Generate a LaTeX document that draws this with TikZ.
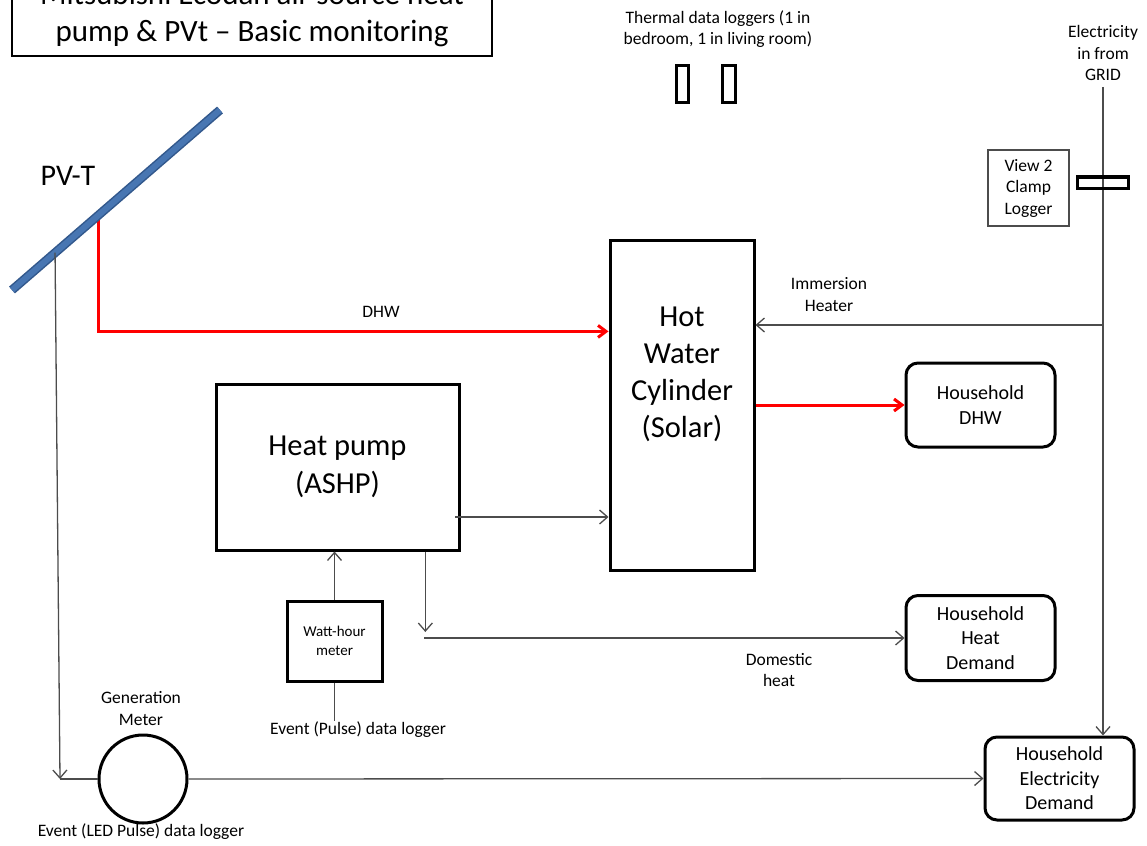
\documentclass[tikz,border=0pt]{standalone}
\usepackage{fontspec}
\setmainfont{Carlito}
\usetikzlibrary{arrows.meta,calc}

\definecolor{pvedge}{RGB}{50,88,140}
\definecolor{pvblue}{RGB}{72,118,178}

\tikzset{
	box/.style={draw, line width=3pt, align=center},
	roundbox/.style={draw, line width=3pt, rounded corners=12pt, align=center, font=\fontsize{20}{24.5}\selectfont},
	flow/.style={draw=black!70, line width=1.3pt, -{Straight Barb[length=8pt,width=14pt]}},
	wire/.style={draw=black!70, line width=1.3pt},
	hotflow/.style={draw=red, line width=3pt, -{Straight Barb[length=8pt,width=12pt]}},
	note/.style={align=center, font=\fontsize{17.5}{21.5}\selectfont, inner sep=1pt},
	logger/.style={draw, line width=3pt, inner sep=0pt},
}

\begin{document}
\begin{tikzpicture}[x=1pt,y=-1pt]
	\useasboundingbox (0,0) rectangle (1147,845);

	%Title
	\node[draw, line width=2pt, minimum width=480pt, minimum height=83pt, align=center, font=\fontsize{31}{37}\selectfont] at (252,14.5) (title) {Mitsubishi Ecodan air source heat\\pump \& PVt – Basic monitoring};

	%Thermal loggers
	\node[note] at (718,29) (thermlbl) {Thermal data loggers (1 in\\bedroom, 1 in living room)};
	\node[logger, minimum width=12pt, minimum height=37pt] at (682,84.5) (tl1) {};
	\node[logger, minimum width=13pt, minimum height=37pt] at (728.5,84.5) (tl2) {};

	%Hot water cylinder
	\node[box, minimum width=144pt, minimum height=330pt] at (682,405) (hwc) {};
	\node[align=center, font=\fontsize{30.5}{37}\selectfont] at (682,374.5) (hwctext) {Hot\\Water\\Cylinder\\(Solar)};

	%Heat pump
	\node[box, minimum width=243pt, minimum height=166pt, font=\fontsize{30.5}{38}\selectfont] at (337.5,467) (hp) {Heat pump\\(ASHP)};

	%Watt-hour meter
	\node[box, minimum width=95pt, minimum height=80pt, font=\fontsize{15}{19}\selectfont] at (334.5,641) (wh) {Watt-hour\\meter};
	\node[note] at (358,730) (pulse) {Event (Pulse) data logger};

	%Household demands
	\node[roundbox, minimum width=149pt, minimum height=84pt] at (980.5,405) (hdhw) {Household\\DHW};
	\node[roundbox, minimum width=149pt, minimum height=85pt] at (980.5,638) (hhd) {Household\\Heat\\Demand};
	\node[roundbox, minimum width=149pt, minimum height=83pt] at (1059.5,778.5) (hed) {Household\\Electricity\\Demand};

	%Grid supply and clamp
	\node[note] at (1103,53) (grid) {Electricity\\in from\\GRID};
	\draw[flow] ($(grid.south)+(0,5)$) -- (grid.south |- hed.north);
	\node[draw, line width=3pt, minimum width=51pt, minimum height=11pt, inner sep=0pt] at (1102.5,182.5) (clamp) {};
	\node[note, draw=black!70, line width=1.3pt, minimum width=81pt, minimum height=76pt] at (1028.5,188) (view) {View 2\\Clamp\\Logger};
	\coordinate (immlevel) at (0,325);
	\draw[flow] (grid.south |- immlevel) -- (immlevel -| hwc.east);
	\node[note] at (829,294.5) (immlbl) {Immersion\\Heater};

	%PV-T panel
	\coordinate (pvlow) at (12,290);
	\coordinate (pvhigh) at (220,110);
	\coordinate (redtap) at ($(pvlow)!0.418!(pvhigh)$);
	\coordinate (electap) at ($(pvlow)!0.207!(pvhigh)$);
	\draw[hotflow] (redtap) |- ($(hwc.north west)!0.279!(hwc.south west)$);
	\node[note] at (381,312) (dhwlbl) {DHW};
	\draw[line width=9pt, color=pvedge] (pvlow)--(pvhigh);
	\draw[line width=6pt, color=pvblue] (pvlow)--(pvhigh);
	\node[font=\fontsize{30}{36}\selectfont] at (68,176) (pvt) {PV-T};

	%Heat flows
	\draw[hotflow] (hwc.east |- hdhw.west) -- (hdhw.west);
	\coordinate (hpout) at (455,517);
	\draw[flow] (hpout) -- (hpout -| hwc.west);
	\coordinate (hpdown) at ($(hp.south west)!0.857!(hp.south east)$);
	\coordinate (heatsplit) at (424,638);
	\draw[flow] (hpdown) -- ($(hpdown |- heatsplit)+(0,-6)$);
	\draw[wire, -{Straight Barb[length=8pt,width=14pt]}] (heatsplit) -- (hhd.west);
	\node[note] at (779,670) (domlbl) {Domestic\\heat};
	\draw[flow] (wh.north) -- (wh.north |- hp.south);
	\draw[wire] (wh.south) -- (wh.south |- pulse.north);

	%Generation meter
	\node[draw, circle, line width=3pt, minimum size=88pt, inner sep=0pt] at (143,779) (gm) {};
	\node[note] at (141,708.5) (gmlbl) {Generation\\Meter};
	\node[note] at (141,832) (ledlbl) {Event (LED Pulse) data logger};
	\coordinate (gmcorner) at (60,779);
	\draw[flow] (electap) -- (gmcorner);
	\draw[wire] (gmcorner) -- (gm.west);
	\draw[flow] (gm.east) -- (hed.west);

\end{tikzpicture}
\end{document}
